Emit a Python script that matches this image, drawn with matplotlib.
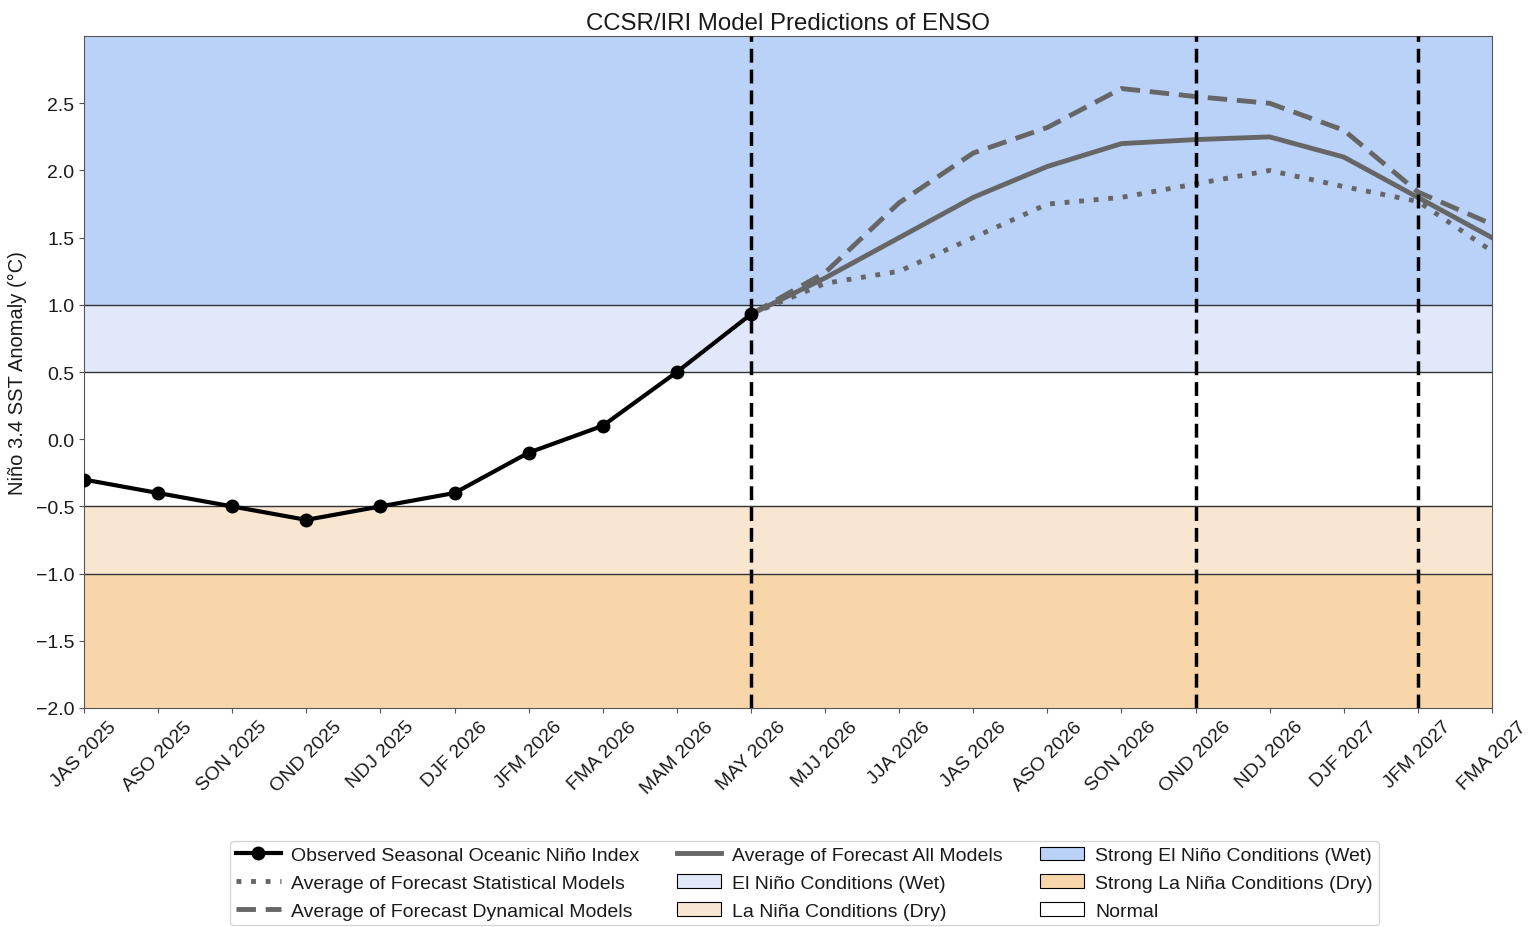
import matplotlib
matplotlib.use("Agg")
import matplotlib.pyplot as plt
from matplotlib.lines import Line2D
from matplotlib.patches import Patch

plt.rcParams['font.family'] = ['Liberation Sans', 'DejaVu Sans']

seasons = ["JAS 2025", "ASO 2025", "SON 2025", "OND 2025", "NDJ 2025", "DJF 2026",
           "JFM 2026", "FMA 2026", "MAM 2026", "MAY 2026", "MJJ 2026", "JJA 2026",
           "JAS 2026", "ASO 2026", "SON 2026", "OND 2026", "NDJ 2026", "DJF 2027",
           "JFM 2027", "FMA 2027"]
observed = [-0.3, -0.4, -0.5, -0.6, -0.5, -0.4, -0.1, 0.1, 0.5, 0.93]
forecast_start = 9
forecast_all = [0.93, 1.2, 1.5, 1.8, 2.03, 2.2, 2.23, 2.25, 2.1, 1.8, 1.5]
forecast_dyn = [0.93, 1.24, 1.76, 2.13, 2.32, 2.61, 2.55, 2.5, 2.3, 1.84, 1.6]
forecast_stat = [0.93, 1.16, 1.25, 1.5, 1.75, 1.8, 1.9, 2.0, 1.88, 1.77, 1.4]
vlines_at = ["MAY 2026", "OND 2026", "JFM 2027"]

c_strong_nino = "#bad2f8"
c_nino = "#e0e8f9"
c_nina = "#f8e6d0"
c_strong_nina = "#f8d6aa"
c_gray = "#666666"

fig = plt.figure(figsize=(15.38, 9.28), dpi=100)
ax = fig.add_axes([0.0546, 0.236, 0.9155, 0.724])

ymin, ymax = -2.0, 3.0
ax.axhspan(1.0, ymax, facecolor=c_strong_nino, edgecolor='none', zorder=0)
ax.axhspan(0.5, 1.0, facecolor=c_nino, edgecolor='none', zorder=0)
ax.axhspan(-0.5, 0.5, facecolor='white', edgecolor='none', zorder=0)
ax.axhspan(-1.0, -0.5, facecolor=c_nina, edgecolor='none', zorder=0)
ax.axhspan(ymin, -1.0, facecolor=c_strong_nina, edgecolor='none', zorder=0)
for yv in [1.0, 0.5, -0.5, -1.0]:
    ax.axhline(yv, color='#333333', lw=1.0, zorder=1)

x = list(range(len(seasons)))
fx = x[forecast_start:forecast_start + len(forecast_all)]
ax.plot(fx, forecast_stat, color=c_gray, lw=3.5, ls=(0, (1, 2)), zorder=3)
ax.plot(fx, forecast_dyn, color=c_gray, lw=3.5, ls=(0, (4, 2)), zorder=3)
ax.plot(fx, forecast_all, color=c_gray, lw=3.5, ls='-', zorder=3)
ax.plot(x[:len(observed)], observed, color='black', lw=3, marker='o', ms=9, zorder=4)

for s in vlines_at:
    ax.axvline(seasons.index(s), color='black', lw=2.5, ls=(0, (4, 2)), zorder=5)

for sp in ax.spines.values():
    sp.set_color('#555555')

ax.set_xlim(0, len(seasons) - 1)
ax.set_ylim(ymin, ymax)
ax.set_xticks(x)
ax.set_xticklabels(seasons, rotation=45, fontsize=14)
ax.set_yticks([-2.0, -1.5, -1.0, -0.5, 0.0, 0.5, 1.0, 1.5, 2.0, 2.5])
ax.tick_params(axis='both', colors='#555555', labelcolor='#1a1a1a')
ax.tick_params(axis='y', labelsize=14)
ax.set_ylabel("Niño 3.4 SST Anomaly (°C)", fontsize=14.5, color='#1a1a1a', labelpad=6)
ax.set_title("CCSR/IRI Model Predictions of ENSO", fontsize=17.3, pad=5, color='#1a1a1a')

handles = [
    Line2D([], [], color='black', lw=3, marker='o', ms=9),
    Line2D([], [], color=c_gray, lw=3.5, ls=(0, (1, 2))),
    Line2D([], [], color=c_gray, lw=3.5, ls=(0, (4, 2))),
    Line2D([], [], color=c_gray, lw=3.5),
    Patch(facecolor=c_nino, edgecolor='black', lw=0.8),
    Patch(facecolor=c_nina, edgecolor='black', lw=0.8),
    Patch(facecolor=c_strong_nino, edgecolor='black', lw=0.8),
    Patch(facecolor=c_strong_nina, edgecolor='black', lw=0.8),
    Patch(facecolor='white', edgecolor='black', lw=0.8),
]
labels = ["Observed Seasonal Oceanic Niño Index",
          "Average of Forecast Statistical Models",
          "Average of Forecast Dynamical Models",
          "Average of Forecast All Models",
          "El Niño Conditions (Wet)",
          "La Niña Conditions (Dry)",
          "Strong El Niño Conditions (Wet)",
          "Strong La Niña Conditions (Dry)",
          "Normal"]
leg = fig.legend(handles, labels, ncol=3, loc='upper center', bbox_to_anchor=(0.523, 0.1035),
                 fontsize=14, frameon=True, handlelength=2.3, handletextpad=0.55,
                 labelspacing=0.52, columnspacing=1.9, borderpad=0.3)
for t in leg.get_texts():
    t.set_color('#1a1a1a')

fig.savefig("out.png", dpi=100)
